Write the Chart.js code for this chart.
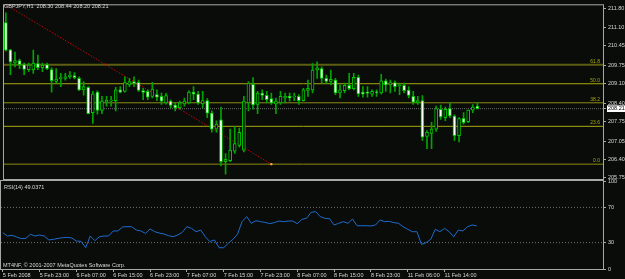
<!DOCTYPE html>
<html>
<head>
<meta charset="utf-8">
<script src="https://cdn.jsdelivr.net/npm/chart.js@4.4.1/dist/chart.umd.min.js"></script>
<style>
  html, body { margin: 0; padding: 0; background: #0a0c0a; }
  #wrap { position: relative; width: 625px; height: 279px; overflow: hidden; }
  #wrap canvas { position: absolute; left: 0; top: 0; }
  .txt { position: absolute; font-family: "Liberation Sans", Arial, sans-serif; font-size: 5.5px; color: #d8d8d8; white-space: nowrap; line-height: 6px; }
</style>
</head>
<body>
<div id="wrap">
  <canvas id="main" width="625" height="279"></canvas>
  <canvas id="rsi" width="625" height="279"></canvas>
  <div class="txt" style="left:4px; top:3px;">GBPJPY,H1&nbsp; 208.30 208.44 208.20 208.21</div>
  <div class="txt" style="left:4px; top:184px;">RSI(14) 49.0371</div>
  <div class="txt" style="left:3px; top:262px;">MT4NF, © 2001-2007 MetaQuotes Software Corp.</div>
</div>
<script>
// GBPJPY H1 candles, 5 Feb 2008 15:00 .. 11 Feb 2008 21:00
const opens = [211.28, 210.31, 209.84, 209.93, 209.78, 209.60, 209.59, 209.82, 209.67, 209.78,
  209.61, 209.18, 209.28, 209.29, 209.35, 209.39, 209.29, 208.88, 208.97, 208.07,
  208.80, 208.15, 208.44, 208.49, 208.50, 208.88, 208.83, 209.06, 209.18, 209.15,
  208.86, 208.83, 208.65, 208.71, 208.65, 208.42, 208.48, 208.34, 208.24, 208.38,
  208.42, 208.80, 208.73, 208.38, 208.50, 208.05, 207.48, 207.81, 206.32, 206.35,
  206.69, 206.90, 206.73, 208.42, 209.08, 208.36, 208.77, 208.69, 208.57, 208.38,
  208.42, 208.59, 208.65, 208.63, 208.65, 208.50, 208.86, 208.88, 209.59, 209.64,
  209.29, 209.18, 209.23, 208.77, 208.85, 209.04, 208.92, 209.33, 208.80, 208.79,
  208.73, 208.81, 208.77, 209.20, 209.06, 209.14, 209.03, 209.04, 208.87, 208.65,
  208.42, 208.50, 207.22, 207.33, 207.48, 208.19, 207.89, 208.21, 207.95, 207.25,
  207.87, 207.75, 208.16, 208.30];
const highs = [211.63, 210.33, 210.23, 209.98, 209.84, 209.84, 210.30, 210.12, 209.84, 209.84,
  209.67, 209.64, 209.47, 209.47, 209.53, 209.50, 209.35, 209.18, 209.00, 208.83,
  208.85, 208.65, 208.65, 208.65, 208.97, 209.00, 209.35, 209.29, 209.35, 209.23,
  208.94, 208.88, 209.15, 208.88, 208.77, 208.76, 208.53, 208.42, 208.48, 208.59,
  208.85, 209.00, 208.83, 208.83, 208.57, 208.13, 207.78, 208.27, 206.61, 207.48,
  207.57, 207.52, 208.65, 209.18, 209.32, 208.83, 208.88, 208.83, 208.77, 208.59,
  208.83, 208.77, 208.77, 208.77, 208.71, 208.94, 209.23, 209.82, 209.88, 209.70,
  209.41, 209.59, 209.29, 209.06, 209.12, 209.47, 209.47, 209.41, 209.00, 209.00,
  208.88, 208.88, 209.44, 209.27, 209.23, 209.20, 209.12, 209.12, 209.00, 208.83,
  208.65, 208.68, 207.43, 207.72, 208.30, 208.34, 208.27, 208.42, 207.99, 207.89,
  208.07, 208.16, 208.36, 208.44];
const lows = [210.26, 209.42, 209.70, 209.64, 209.42, 209.53, 209.47, 209.60, 209.53, 209.60,
  208.80, 209.12, 209.00, 209.23, 209.29, 209.27, 208.85, 208.69, 208.02, 207.68,
  208.01, 208.03, 208.30, 208.30, 208.13, 208.77, 208.80, 209.00, 209.00, 208.83,
  208.53, 208.53, 208.59, 208.50, 208.36, 208.37, 208.24, 208.13, 208.19, 208.30,
  208.38, 208.53, 208.36, 208.24, 207.89, 207.37, 207.37, 206.17, 205.87, 206.32,
  206.61, 206.84, 206.67, 208.13, 208.19, 208.03, 208.53, 208.42, 208.36, 208.03,
  208.36, 208.42, 208.48, 208.50, 208.36, 208.48, 208.65, 208.77, 209.29, 209.12,
  209.12, 209.06, 208.71, 208.59, 208.77, 208.88, 208.88, 208.65, 208.62, 208.62,
  208.65, 208.65, 208.73, 208.83, 208.77, 208.83, 208.71, 208.77, 208.59, 208.36,
  208.36, 207.08, 206.78, 206.78, 207.40, 207.83, 207.78, 207.89, 207.08, 207.02,
  207.66, 207.71, 208.07, 208.20];
const closes = [210.30, 209.88, 209.93, 209.78, 209.61, 209.77, 209.84, 209.67, 209.76, 209.64,
  209.21, 209.27, 209.32, 209.35, 209.41, 209.32, 208.88, 209.00, 208.03, 208.74,
  208.15, 208.48, 208.52, 208.51, 208.88, 208.80, 209.14, 209.18, 209.12, 208.86,
  208.79, 208.62, 208.91, 208.62, 208.48, 208.68, 208.33, 208.24, 208.42, 208.48,
  208.80, 208.73, 208.42, 208.50, 208.05, 207.48, 207.66, 206.32, 206.40, 206.73,
  206.96, 207.37, 208.48, 209.12, 208.34, 208.77, 208.68, 208.53, 208.42, 208.48,
  208.65, 208.65, 208.59, 208.65, 208.50, 208.88, 208.94, 209.59, 209.67, 209.29,
  209.18, 209.26, 208.77, 208.88, 209.04, 208.92, 209.33, 208.74, 208.73, 208.76,
  208.83, 208.79, 209.20, 209.06, 209.14, 209.00, 209.06, 208.85, 208.68, 208.44,
  208.50, 207.19, 207.37, 207.48, 208.21, 207.92, 208.19, 207.95, 207.25, 207.86,
  207.71, 208.16, 208.27, 208.21];

// RSI(14)
const rsiValues = [41.3, 37.5, 38.3, 36.4, 34.5, 34.8, 39.4, 37.5, 38.6, 37.5,
  33.0, 33.7, 34.8, 35.6, 36.0, 35.2, 31.8, 31.4, 24.2, 37.5,
  32.2, 36.7, 37.5, 37.5, 43.2, 43.2, 47.7, 48.1, 48.1, 44.3,
  43.2, 40.5, 45.5, 42.4, 40.9, 39.8, 37.9, 36.7, 38.6, 41.7,
  48.1, 46.2, 42.4, 44.3, 36.7, 31.1, 33.0, 24.2, 24.2, 29.2,
  33.7, 39.4, 53.8, 59.5, 51.9, 54.9, 53.8, 53.0, 51.5, 52.7,
  54.5, 53.8, 54.5, 54.5, 51.5, 56.4, 57.6, 64.4, 65.2, 59.5,
  57.6, 57.2, 50.0, 51.9, 53.8, 51.9, 56.8, 49.2, 49.2, 49.2,
  48.9, 50.0, 55.7, 53.8, 54.2, 52.7, 51.9, 48.1, 45.1, 42.4,
  42.4, 28.0, 29.9, 33.7, 45.1, 42.4, 46.2, 42.4, 36.7, 44.3,
  43.2, 48.1, 50.0, 49.04];

const timeLabels = ['5 Feb 2008', '5 Feb 23:00', '6 Feb 07:00', '6 Feb 15:00', '6 Feb 23:00',
  '7 Feb 07:00', '7 Feb 15:00', '7 Feb 23:00', '8 Feb 07:00', '8 Feb 15:00',
  '8 Feb 23:00', '11 Feb 06:00', '11 Feb 14:00'];
const timeTickBars = [0, 8, 16, 24, 32, 40, 48, 56, 64, 72, 80, 88, 96];

const priceTicks = [205.75, 206.40, 207.05, 207.75, 208.40, 209.10, 209.75, 210.45, 211.10, 211.80];
const bidPrice = 208.21;

const fibNames = ['0.0', '23.6', '38.2', '50.0', '61.8'];
const fibPrices = [206.23, 207.58, 208.42, 209.10, 209.78];
const fibColors = ['#8c8c12', '#a8a810', '#8c8c12', '#a8a810', '#5e5e10'];
const fibWidths = [1, 1, 1, 1, 2];

// fibo base line: from the 100% point down to the 0% point
const trendBars = [0, 58];
const trendPrices = [211.92, 206.23];

const rsiTicks = [0, 30, 70, 100];
const rsiLevels = [30, 70];

const X_MIN = -0.4;
const X_MAX = 130.45;

const FONT = { family: '"Liberation Sans", Arial, sans-serif', size: 5.5 };
const TEXT = '#d8d8d8';
const FRAME = '#a8a8a8';
const BULL_LINE = '#00c800';
const WICK = '#00a400';
const FIB = '#a8a810';

const framePlugin = {
    id: 'frame',
    afterDraw(chart) {
        const a = chart.chartArea;
        const ctx = chart.ctx;
        ctx.save();
        ctx.strokeStyle = FRAME;
        ctx.lineWidth = 1;
        ctx.strokeRect(a.left - 0.5, a.top - 0.5, a.right - a.left + 1, a.bottom - a.top + 1);
        ctx.restore();
    }
};

// small level captions at the right end of each fibo line
const fibLabelPlugin = {
    id: 'fibLabels',
    afterDatasetsDraw(chart) {
        const ctx = chart.ctx;
        const y = chart.scales.y;
        ctx.save();
        ctx.font = '5px "Liberation Sans", Arial, sans-serif';
        ctx.fillStyle = FIB;
        ctx.textAlign = 'right';
        ctx.textBaseline = 'bottom';
        fibNames.forEach((name, i) => {
            ctx.fillText(name, chart.chartArea.right - 3, y.getPixelForValue(fibPrices[i]) - 1);
        });
        ctx.restore();
    }
};

function hLine(value, color, dash, width) {
    return {
        type: 'line',
        data: [{ x: X_MIN, y: value }, { x: X_MAX, y: value }],
        borderColor: color,
        borderWidth: width || 1,
        borderDash: dash || [],
        pointRadius: 0,
        order: 5
    };
}

const bars = opens.map((o, i) => i);

const mainDatasets = [
    {
        type: 'bar',
        data: bars.map(i => ({ x: i, y: [lows[i], highs[i]] })),
        backgroundColor: WICK,
        barThickness: 1,
        grouped: false,
        order: 3
    },
    {
        type: 'bar',
        data: bars.map(i => ({ x: i, y: [opens[i], closes[i]] })),
        backgroundColor: bars.map(i => closes[i] < opens[i] ? '#ffffff' : '#0a0c0a'),
        borderColor: BULL_LINE,
        borderWidth: 1,
        borderSkipped: false,
        barThickness: 3,
        grouped: false,
        order: 2
    },
    ...fibPrices.map((p, i) => hLine(p, fibColors[i], [], fibWidths[i])),
    hLine(bidPrice, '#6a6a6a', [1, 1]),
    {
        type: 'line',
        data: trendBars.map((b, i) => ({ x: b, y: trendPrices[i] })),
        borderColor: '#c00808',
        borderWidth: 1,
        borderDash: [1.5, 1.5],
        pointRadius: [0, 1.2],
        pointBackgroundColor: '#ffa040',
        pointBorderWidth: 0,
        order: 4
    }
];

new Chart(document.getElementById('main'), {
    type: 'bar',
    data: { datasets: mainDatasets },
    options: {
        responsive: false,
        animation: false,
        layout: { padding: { top: 2, left: 1, right: 0, bottom: 100 } },
        plugins: { legend: { display: false }, tooltip: { enabled: false } },
        scales: {
            x: { type: 'linear', min: X_MIN, max: X_MAX, offset: false, display: false },
            y: {
                position: 'right',
                min: 205.70,
                max: 211.90,
                afterFit(scale) { scale.width = 22; },
                afterBuildTicks(scale) {
                    scale.ticks = priceTicks.concat([bidPrice]).map(v => ({ value: v }));
                },
                ticks: {
                    font: FONT,
                    padding: 2,
                    color: ctx => ctx.tick && ctx.tick.value === bidPrice ? '#000000' : TEXT,
                    showLabelBackdrop: ctx => !!(ctx.tick && ctx.tick.value === bidPrice),
                    backdropColor: '#ffffff',
                    backdropPadding: { top: 0, bottom: 0, left: 1, right: 4 },
                    callback: v => v.toFixed(2)
                },
                grid: { drawOnChartArea: false, tickLength: 3, color: FRAME },
                border: { color: FRAME }
            }
        }
    },
    plugins: [framePlugin, fibLabelPlugin]
});

new Chart(document.getElementById('rsi'), {
    type: 'line',
    data: {
        datasets: [
            {
                data: bars.map(i => ({ x: i, y: rsiValues[i] })),
                borderColor: '#1e6ccc',
                borderWidth: 1,
                pointRadius: 0,
                tension: 0,
                order: 1
            },
            ...rsiLevels.map(v => hLine(v, '#707070', [1, 2]))
        ]
    },
    options: {
        responsive: false,
        animation: false,
        layout: { padding: { top: 181, left: 1, right: 0, bottom: 0 } },
        plugins: { legend: { display: false }, tooltip: { enabled: false } },
        scales: {
            x: {
                type: 'linear',
                min: X_MIN,
                max: X_MAX,
                offset: false,
                afterFit(scale) { scale.height = 10; },
                afterBuildTicks(scale) {
                    scale.ticks = timeTickBars.map(v => ({ value: v }));
                },
                ticks: {
                    font: FONT,
                    color: TEXT,
                    align: 'start',
                    maxRotation: 0,
                    autoSkip: false,
                    padding: 0,
                    callback: v => timeLabels[timeTickBars.indexOf(v)]
                },
                grid: { drawOnChartArea: false, tickLength: 3, color: FRAME },
                border: { color: FRAME }
            },
            y: {
                position: 'right',
                min: 0,
                max: 100,
                afterFit(scale) { scale.width = 22; },
                afterBuildTicks(scale) {
                    scale.ticks = rsiTicks.map(v => ({ value: v }));
                },
                ticks: { font: FONT, color: TEXT, padding: 2 },
                grid: { drawOnChartArea: false, tickLength: 3, color: FRAME },
                border: { color: FRAME }
            }
        }
    },
    plugins: [framePlugin]
});
</script>
</body>
</html>
